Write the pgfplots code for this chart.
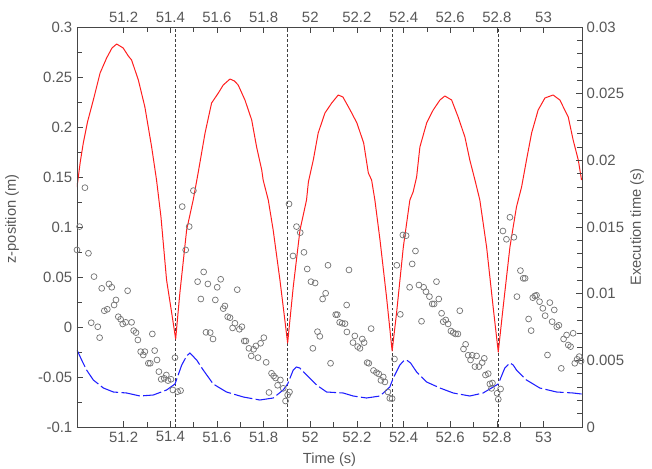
\documentclass[border=0pt]{standalone}
\usepackage{fontspec}
\setmainfont{Liberation Sans}
\usepackage{pgfplots}
\pgfplotsset{compat=1.18}
\definecolor{lblgray}{RGB}{88,88,88}
\definecolor{axgray}{RGB}{70,70,70}
\definecolor{circgray}{RGB}{118,118,118}
\definecolor{myred}{RGB}{255,30,30}
\definecolor{myblue}{RGB}{30,30,255}
\begin{document}
\begin{tikzpicture}
\pgfplotsset{
  common/.style={
    scale only axis, width=378.75pt, height=300pt,
    xmin=51.0, xmax=53.165,
    xtick={51.2,51.4,51.6,51.8,52,52.2,52.4,52.6,52.8,53},
    minor x tick num=1,
    tick align=inside,
    major tick length=4.5pt, minor tick length=3.5pt,
    axis line style={axgray, line width=0.6pt},
    every tick/.style={axgray, line width=0.5pt},
    tick label style={font=\fontsize{11.2}{13}\selectfont, text=lblgray},
    label style={font=\fontsize{11}{13}\selectfont, text=lblgray},
    /pgf/number format/assume math mode=true,
    scaled ticks=false,
    clip=true,
  }
}
\begin{axis}[common, name=main,
  ymin=-0.1, ymax=0.3,
  ytick={-0.1,-0.05,0,0.05,0.1,0.15,0.2,0.25,0.3},
  minor y tick num=1,
  xtick pos=bottom, ytick pos=left,
  yticklabel style={/pgf/number format/fixed, /pgf/number format/precision=2},
  xticklabel style={/pgf/number format/fixed, /pgf/number format/precision=1},
  xlabel={Time (s)}, ylabel={z-position (m)},
  xlabel style={at={(axis description cs:0.5,-0.0825)}, anchor=center},
  ylabel style={at={(axis description cs:-0.1287,0.52)}, anchor=center},
]
\addplot[black!75, dash pattern=on 2.2pt off 1.6pt, line width=0.6pt] coordinates {(51.423,-0.1) (51.423,0.3)};
\addplot[black!75, dash pattern=on 2.2pt off 1.6pt, line width=0.6pt] coordinates {(51.903,-0.1) (51.903,0.3)};
\addplot[black!75, dash pattern=on 2.2pt off 1.6pt, line width=0.6pt] coordinates {(52.351,-0.1) (52.351,0.3)};
\addplot[black!75, dash pattern=on 2.2pt off 1.6pt, line width=0.6pt] coordinates {(52.806,-0.1) (52.806,0.3)};
% red z-position
\addplot[myred, line width=0.75pt, line join=round] table {
51.000 0.140
51.014 0.165
51.027 0.184
51.045 0.205
51.070 0.227
51.099 0.254
51.127 0.269
51.150 0.279
51.170 0.283
51.198 0.279
51.220 0.271
51.234 0.267
51.263 0.247
51.291 0.220
51.320 0.180
51.341 0.147
51.360 0.110
51.384 0.047
51.406 0.014
51.423 -0.012
51.441 0.034
51.470 0.097
51.499 0.128
51.520 0.155
51.549 0.194
51.577 0.224
51.606 0.234
51.627 0.242
51.656 0.248
51.675 0.246
51.691 0.242
51.720 0.227
51.749 0.207
51.770 0.180
51.792 0.157
51.798 0.147
51.820 0.127
51.841 0.097
51.870 0.047
51.891 0.007
51.903 -0.016
51.927 0.040
51.956 0.097
51.984 0.127
51.992 0.145
52.013 0.167
52.034 0.194
52.063 0.214
52.092 0.224
52.120 0.232
52.140 0.230
52.171 0.217
52.200 0.204
52.229 0.184
52.249 0.154
52.263 0.147
52.277 0.127
52.299 0.087
52.327 0.030
52.351 -0.024
52.370 0.014
52.399 0.080
52.427 0.127
52.441 0.135
52.456 0.150
52.470 0.180
52.499 0.204
52.527 0.217
52.556 0.227
52.577 0.231
52.606 0.227
52.634 0.210
52.663 0.190
52.684 0.167
52.706 0.147
52.727 0.127
52.756 0.080
52.784 0.020
52.806 -0.025
52.827 0.020
52.856 0.080
52.884 0.120
52.906 0.140
52.927 0.167
52.949 0.194
52.977 0.217
53.006 0.229
53.041 0.232
53.070 0.227
53.106 0.210
53.127 0.187
53.149 0.167
53.163 0.147
};
% blue dashed
\addplot[myblue, line width=0.8pt, dash pattern=on 14pt off 2.5pt] table {
51.000 -0.023
51.020 -0.033
51.041 -0.043
51.070 -0.053
51.113 -0.061
51.156 -0.065
51.213 -0.066
51.270 -0.069
51.327 -0.068
51.384 -0.063
51.420 -0.057
51.449 -0.038
51.470 -0.029
51.484 -0.026
51.513 -0.033
51.541 -0.043
51.584 -0.057
51.641 -0.065
51.713 -0.070
51.784 -0.073
51.841 -0.071
51.884 -0.063
51.903 -0.057
51.927 -0.043
51.941 -0.040
51.955 -0.041
51.984 -0.048
52.027 -0.058
52.070 -0.065
52.141 -0.066
52.184 -0.069
52.241 -0.071
52.299 -0.069
52.341 -0.060
52.356 -0.051
52.384 -0.038
52.400 -0.034
52.413 -0.033
52.430 -0.036
52.456 -0.045
52.499 -0.055
52.556 -0.061
52.613 -0.066
52.684 -0.069
52.741 -0.066
52.784 -0.060
52.806 -0.057
52.834 -0.041
52.856 -0.036
52.870 -0.038
52.884 -0.043
52.927 -0.053
52.984 -0.061
53.056 -0.065
53.127 -0.066
53.163 -0.067
};
\end{axis}
\begin{axis}[common,
  ymin=0, ymax=0.03,
  ytick={0,0.005,0.01,0.015,0.02,0.025,0.03},
  minor y tick num=4,
  xtick pos=top, ytick pos=right,
  xticklabel pos=top, yticklabel pos=right,
  yticklabel style={/pgf/number format/fixed, /pgf/number format/precision=3},
  xticklabel style={/pgf/number format/fixed, /pgf/number format/precision=1},
  ylabel={Execution time (s)},
  ylabel style={at={(axis description cs:1.1089,0.5)}, anchor=center, rotate=0},
]
\addplot[only marks, mark=o, mark size=2.2pt, circgray, mark options={line width=0.55pt}] table {
51.000 0.01328
51.011 0.01503
51.034 0.01795
51.049 0.01303
51.073 0.01128
51.106 0.01040
51.137 0.01073
51.149 0.01048
51.217 0.01022
51.167 0.00953
51.159 0.00915
51.117 0.00872
51.130 0.00883
51.061 0.00782
51.089 0.00752
51.097 0.00670
51.177 0.00827
51.187 0.00808
51.196 0.00773
51.209 0.00785
51.234 0.00785
51.243 0.00723
51.253 0.00708
51.261 0.00653
51.323 0.00698
51.273 0.00565
51.291 0.00565
51.284 0.00540
51.333 0.00573
51.306 0.00478
51.314 0.00478
51.343 0.00503
51.351 0.00415
51.361 0.00358
51.374 0.00365
51.383 0.00390
51.390 0.00348
51.403 0.00358
51.411 0.00278
51.420 0.00520
51.431 0.00265
51.444 0.00273
51.499 0.01773
51.451 0.01653
51.481 0.01503
51.466 0.01328
51.543 0.01163
51.517 0.01090
51.561 0.01073
51.616 0.01108
51.601 0.01048
51.687 0.01030
51.531 0.00960
51.593 0.00953
51.634 0.00908
51.627 0.00888
51.646 0.00827
51.656 0.00820
51.677 0.00778
51.667 0.00743
51.696 0.00733
51.707 0.00752
51.553 0.00710
51.571 0.00708
51.583 0.00660
51.717 0.00645
51.724 0.00645
51.737 0.00590
51.757 0.00583
51.767 0.00608
51.787 0.00628
51.801 0.00670
51.747 0.00533
51.776 0.00520
51.811 0.00485
51.823 0.00259
51.834 0.00403
51.843 0.00383
51.851 0.00368
51.860 0.00313
51.872 0.00353
51.884 0.00290
51.894 0.00195
51.903 0.00240
51.911 0.00263
51.909 0.01673
51.941 0.01503
51.957 0.01458
51.926 0.01283
51.973 0.01310
51.987 0.01185
52.076 0.01213
52.166 0.01178
52.003 0.01090
52.021 0.01080
52.066 0.01003
52.053 0.00960
52.156 0.00915
52.109 0.00843
52.116 0.00843
52.126 0.00785
52.137 0.00778
52.149 0.00775
52.157 0.00713
52.031 0.00715
52.041 0.00680
52.011 0.00590
52.191 0.00683
52.223 0.00660
52.231 0.00633
52.183 0.00633
52.203 0.00603
52.213 0.00590
52.261 0.00738
52.087 0.00478
52.244 0.00483
52.251 0.00478
52.271 0.00424
52.284 0.00408
52.294 0.00398
52.303 0.00350
52.313 0.00375
52.320 0.00338
52.333 0.00263
52.341 0.00215
52.351 0.00213
52.361 0.00510
52.397 0.01440
52.411 0.01435
52.451 0.01320
52.371 0.01213
52.437 0.01223
52.541 0.01090
52.426 0.01048
52.466 0.01065
52.486 0.01048
52.496 0.01015
52.511 0.00978
52.551 0.00960
52.523 0.00923
52.531 0.00923
52.386 0.00845
52.477 0.00793
52.563 0.00853
52.641 0.00872
52.570 0.00790
52.581 0.00803
52.591 0.00773
52.603 0.00720
52.613 0.00708
52.623 0.00698
52.633 0.00698
52.666 0.00620
52.657 0.00585
52.677 0.00538
52.687 0.00503
52.694 0.00538
52.713 0.00533
52.706 0.00453
52.723 0.00453
52.737 0.00483
52.746 0.00515
52.751 0.00390
52.763 0.00400
52.770 0.00323
52.781 0.00330
52.777 0.00290
52.801 0.00253
52.806 0.00208
52.816 0.00285
52.856 0.01573
52.826 0.01470
52.841 0.01408
52.873 0.01423
52.901 0.01173
52.913 0.01115
52.921 0.01115
52.886 0.00978
52.963 0.00983
52.970 0.00988
52.954 0.00970
52.983 0.00940
52.997 0.00890
53.027 0.00933
53.046 0.00878
53.007 0.00835
52.936 0.00810
52.947 0.00723
53.037 0.00790
53.057 0.00752
53.066 0.00763
53.099 0.00690
53.086 0.00660
53.106 0.00615
53.116 0.00603
53.127 0.00703
53.017 0.00540
53.076 0.00440
53.134 0.00478
53.144 0.00508
53.153 0.00528
53.161 0.00495
};
\end{axis}
\pgfresetboundingbox
\path ([shift={(-57.75pt,-30.75pt)}]main.south west) rectangle ([shift={(52.5pt,20.25pt)}]main.north east);
\end{tikzpicture}
\end{document}
